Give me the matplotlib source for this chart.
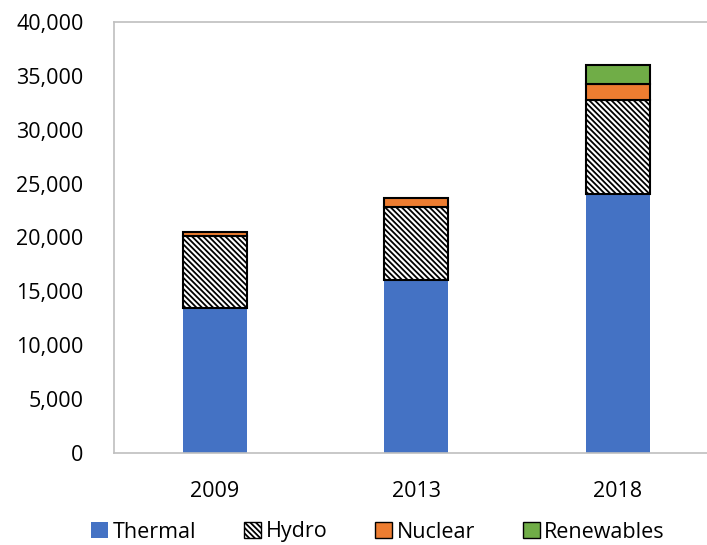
import matplotlib
matplotlib.use("Agg")
import matplotlib.pyplot as plt
from matplotlib.ticker import FuncFormatter
from matplotlib.patches import Patch
import numpy as np

years = ["2009", "2013", "2018"]
thermal = [13500, 16050, 24000]
hydro = [6600, 6800, 8800]
nuclear = [420, 850, 1450]
renewables = [0, 0, 1800]
yticks = [0, 5000, 10000, 15000, 20000, 25000, 30000, 35000, 40000]

plt.rcParams['font.family'] = ['Open Sans', 'DejaVu Sans']
plt.rcParams['hatch.color'] = '#606060'
plt.rcParams['hatch.linewidth'] = 1.3

HATCH = '\\' * 6

fig = plt.figure(figsize=(7.07, 5.45), dpi=100)
ax = fig.add_axes([114/707, 1 - 453/545, 1 - 114/707, (453 - 22) / 545])

x = np.arange(len(years))
w = 0.32
b1 = np.array(thermal)
b2 = b1 + np.array(hydro)
b3 = b2 + np.array(nuclear)

ax.bar(x, thermal, w, color='#4472C4', edgecolor='none', zorder=2)
ax.bar(x, hydro, w, bottom=b1, facecolor='white', edgecolor='black', hatch=HATCH, linewidth=1.5, zorder=2)
ax.bar(x, nuclear, w, bottom=b2, color='#ED7D31', edgecolor='black', linewidth=1.5, zorder=2)
ren = np.array(renewables)
mask = ren > 0
ax.bar(x[mask], ren[mask], w, bottom=b3[mask], color='#70AD47', edgecolor='black', linewidth=1.5, zorder=2)

ax.set_ylim(0, 40000)
ax.set_xlim(-0.5, (707 - 114) / 201.5 - 0.5)
ax.set_yticks(yticks)
ax.yaxis.set_major_formatter(FuncFormatter(lambda v, p: f"{int(v):,}"))
ax.set_xticks(x)
ax.set_xticklabels(years)
ax.tick_params(axis='both', length=0, labelsize=15.5, colors='black')
ax.tick_params(axis='x', pad=20)
ax.tick_params(axis='y', pad=22)

for s in ['left', 'bottom', 'top']:
    ax.spines[s].set_color('#BFBFBF')
    ax.spines[s].set_linewidth(1.2)
ax.spines['right'].set_visible(False)

handles = [
    Patch(facecolor='#4472C4', edgecolor='none', label='Thermal'),
    Patch(facecolor='white', edgecolor='black', hatch=HATCH, label='Hydro'),
    Patch(facecolor='#ED7D31', edgecolor='black', label='Nuclear'),
    Patch(facecolor='#70AD47', edgecolor='black', label='Renewables'),
]
fig.legend(handles=handles, loc='center', bbox_to_anchor=(378/707, 1 - 532/545), ncol=4,
           frameon=False, fontsize=15.5, handlelength=0.8, handleheight=0.8,
           handletextpad=0.2, columnspacing=2.22, borderpad=0)

fig.savefig("out.png", dpi=100)
